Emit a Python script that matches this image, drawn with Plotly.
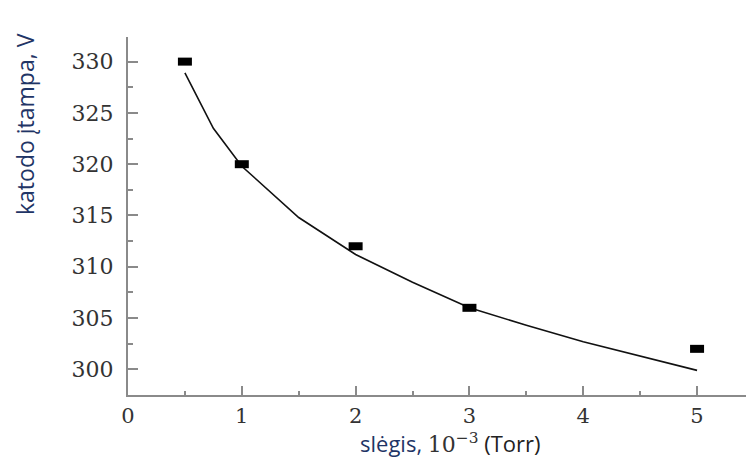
import plotly.graph_objects as go

# measured points
x_pts = [0.5, 1, 2, 3, 5]
y_pts = [330, 320, 312, 306, 302]

# fitted curve
x_fit = [0.5, 0.75, 1.0, 1.5, 2.0, 2.5, 3.0, 3.5, 4.0, 4.5, 5.0]
y_fit = [328.9, 323.5, 319.8, 314.8, 311.2, 308.5, 306.0, 304.3, 302.7, 301.3, 299.9]

x_ticks = [0, 1, 2, 3, 4, 5]
y_ticks = [300, 305, 310, 315, 320, 325, 330]

label_color = "#1f3566"
axis_color = "#8a8a8a"
tick_font = dict(family="DejaVu Serif", size=22, color="#333333")
xtick_font = dict(family="DejaVu Serif", size=21, color="#333333")

fig = go.Figure()
fig.add_trace(go.Scatter(x=x_fit, y=y_fit, mode="lines",
                         line=dict(color="#111111", width=1.6), showlegend=False))
fig.add_trace(go.Scatter(x=x_pts, y=y_pts, mode="markers",
                         marker=dict(symbol="line-ew", size=10,
                                     line=dict(width=8, color="black")),
                         showlegend=False))

fig.update_layout(
    width=747, height=458,
    margin=dict(l=128, r=1, t=37, b=63),
    paper_bgcolor="white", plot_bgcolor="white",
    xaxis=dict(range=[0, 5.43], tickvals=x_ticks, ticks="inside", ticklen=9,
               tickwidth=1.5, tickcolor=axis_color, showline=True,
               linecolor=axis_color, linewidth=2, showgrid=False, zeroline=False,
               tickfont=xtick_font, minor=dict(dtick=0.5, ticks="inside", ticklen=4,
                                               tickcolor=axis_color, tickwidth=1.5),
               ticklabelstandoff=1),
    yaxis=dict(range=[297.5, 332.4], tickvals=y_ticks, ticks="inside", ticklen=10,
               tickwidth=1.5, tickcolor=axis_color, showline=True,
               linecolor=axis_color, linewidth=2, showgrid=False, zeroline=False,
               tickfont=tick_font, minor=dict(dtick=2.5, ticks="inside", ticklen=5,
                                              tickcolor=axis_color, tickwidth=1.5),
               ticklabelstandoff=8),
)

# y-axis title (placed high, as in the original)
fig.add_annotation(
    xref="paper", yref="paper", x=-(128 - 25) / 618, y=(395 - 124) / 358,
    xanchor="center", yanchor="middle", showarrow=False, textangle=-90,
    text="katodo įtampa, V",
    font=dict(family="Open Sans", size=23, color=label_color),
)

# x-axis title
fig.add_annotation(
    xref="paper", yref="paper", x=(451 - 128) / 618, y=-(443 - 395) / 358,
    xanchor="center", yanchor="middle", showarrow=False,
    text=("<span style='color:%s'>slėgis,</span> "
          "<span style='font-family:DejaVu Serif;color:#333'>10<sup>−3</sup></span> "
          "<span style='color:#222'>(Torr)</span>") % label_color,
    font=dict(family="Open Sans", size=22, color=label_color),
)

fig.write_html("out.html")
